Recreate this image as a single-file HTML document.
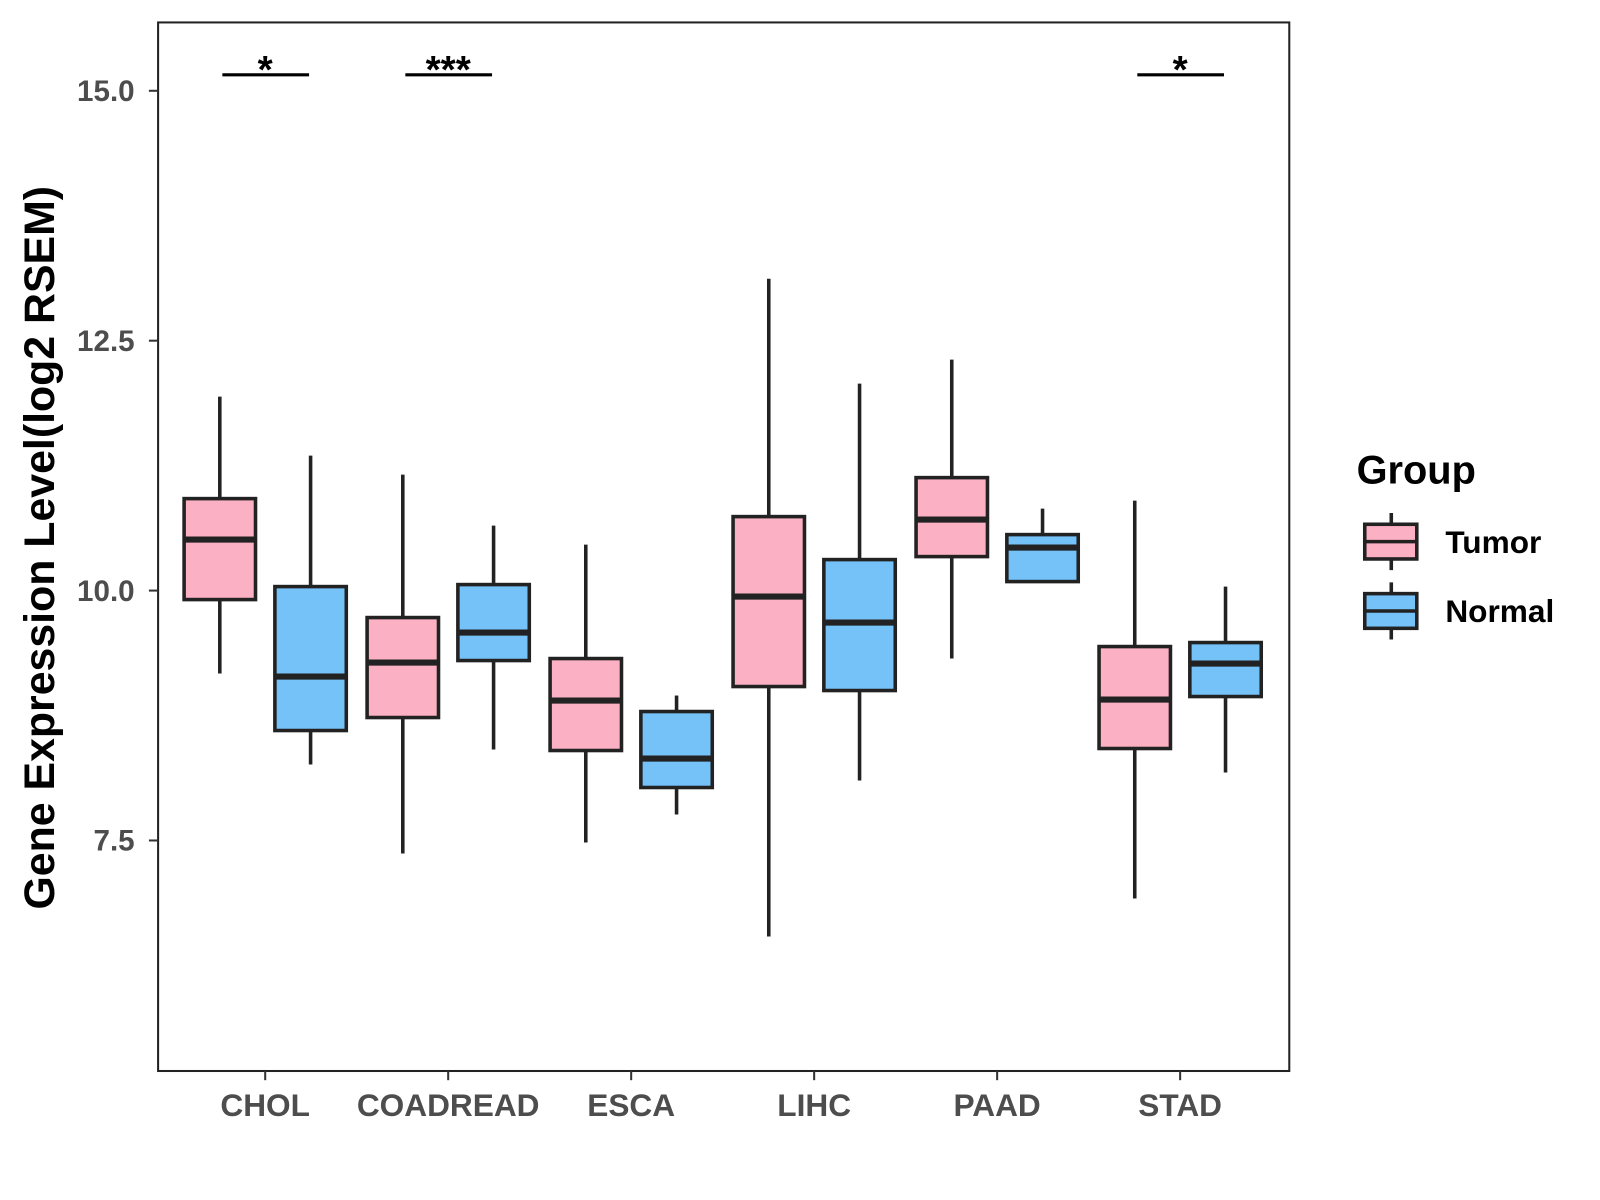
<!DOCTYPE html>
<html><head><meta charset="utf-8"><style>
html,body{margin:0;padding:0;background:#fff;}
svg{display:block;font-family:"Liberation Sans",Arial,sans-serif;}
</style></head><body>
<svg id="chart" width="1600" height="1200" viewBox="0 0 1600 1200">
<g transform="scale(1.020)">
<rect x="155" y="22" width="1109" height="1028" fill="#fff" stroke="#222" stroke-width="2"/>
<g id="yaxis"></g>
<g id="xaxis"></g>
<g id="boxes"></g>
<g id="sig"></g>
<text x="53" y="537" transform="rotate(-90 53 537)" text-anchor="middle" font-size="42" font-weight="bold" fill="#000">Gene Expression Level(log2 RSEM)</text>
<g>
<text x="1330" y="474" font-size="39" font-weight="bold" fill="#000">Group</text>
<g>
<line x1="1364" y1="503" x2="1364" y2="559" stroke="#222" stroke-width="3.5"/>
<rect x="1338" y="514" width="51" height="34" fill="#FBB1C3" stroke="#222" stroke-width="3.5"/>
<line x1="1338" y1="531" x2="1389" y2="531" stroke="#222" stroke-width="3.5"/>
<text x="1417" y="542" font-size="31" font-weight="bold" fill="#000">Tumor</text></g>
<g>
<line x1="1364" y1="571" x2="1364" y2="627" stroke="#222" stroke-width="3.5"/>
<rect x="1338" y="582" width="51" height="34" fill="#75C2F8" stroke="#222" stroke-width="3.5"/>
<line x1="1338" y1="599" x2="1389" y2="599" stroke="#222" stroke-width="3.5"/>
<text x="1417" y="610" font-size="31" font-weight="bold" fill="#000">Normal</text></g>
</g>
</g>
</svg>
<script>
const categories = ["CHOL","COADREAD","ESCA","LIHC","PAAD","STAD"];
const tumorStats = [
 [9.17,9.91,10.51,10.92,11.94],
 [7.37,8.73,9.28,9.73,11.16],
 [7.48,8.40,8.90,9.32,10.46],
 [6.54,9.04,9.94,10.74,13.12],
 [9.32,10.34,10.71,11.13,12.31],
 [6.92,8.42,8.91,9.44,10.90]];
const normalStats = [
 [8.26,8.60,9.14,10.04,11.35],
 [8.41,9.30,9.58,10.06,10.65],
 [7.76,8.03,8.32,8.79,8.95],
 [8.10,9.00,9.68,10.31,12.07],
 [10.09,10.09,10.43,10.56,10.82],
 [8.18,8.94,9.27,9.48,10.04]];
const yTicks = [7.5,10.0,12.5,15.0];
const yTickLabels = ["7.5","10.0","12.5","15.0"];
const sigLabels = ["*","***","","","","*"];
const sigLevel = 15.16;

const NS="http://www.w3.org/2000/svg";
const yScale = v => 579 - (v-10)*98;
const xScale = i => 260 + i*179.4;
function mk(tag, attrs, parent){const e=document.createElementNS(NS,tag);for(const k in attrs)e.setAttribute(k,attrs[k]);parent.appendChild(e);return e;}
const ya=document.getElementById('yaxis'), xa=document.getElementById('xaxis'), bx=document.getElementById('boxes'), sg=document.getElementById('sig');
yTicks.forEach((t,i)=>{
 const y=yScale(t);
 const l=mk('line',{x1:146,x2:155,y1:y,y2:y,stroke:'#333','stroke-width':2},ya);
 
 
 const tx=mk('text',{x:132,y:y+10,'text-anchor':'end','font-size':29,'font-weight':'bold',fill:'#4d4d4d'},ya);
 tx.textContent=yTickLabels[i];
 
 
});
categories.forEach((c,i)=>{
 const x=xScale(i);
 const l=mk('line',{x1:x,x2:x,y1:1050,y2:1059,stroke:'#333','stroke-width':2},xa);
 
 
 const tx=mk('text',{x:x,y:1094,'text-anchor':'middle','font-size':31,'font-weight':'bold',fill:'#4d4d4d'},xa);
 tx.textContent=c;
 
 
});
function drawBox(s,cx,fill,name){
 const g=mk('g',{},bx);
 
 
 const hw=35;
 mk('line',{x1:cx,x2:cx,y1:yScale(s[4]),y2:yScale(s[3]),stroke:'#222','stroke-width':3.5},g);
 mk('line',{x1:cx,x2:cx,y1:yScale(s[1]),y2:yScale(s[0]),stroke:'#222','stroke-width':3.5},g);
 mk('rect',{x:cx-hw,y:yScale(s[3]),width:hw*2,height:yScale(s[1])-yScale(s[3]),fill:fill,stroke:'#222','stroke-width':3.5},g);
 mk('line',{x1:cx-hw,x2:cx+hw,y1:yScale(s[2]),y2:yScale(s[2]),stroke:'#222','stroke-width':6},g);
}
categories.forEach((c,i)=>{
 drawBox(tumorStats[i],xScale(i)-44.5,'#FBB1C3','box-'+c.toLowerCase()+'-tumor');
 drawBox(normalStats[i],xScale(i)+44.5,'#75C2F8','box-'+c.toLowerCase()+'-normal');
 if(sigLabels[i]){
  const y=yScale(sigLevel);
  const l=mk('line',{x1:xScale(i)-42,x2:xScale(i)+43,y1:y,y2:y,stroke:'#000','stroke-width':3},sg);
  
  
  const t=mk('text',{x:xScale(i),y:y+8,'text-anchor':'middle','font-size':38,'font-weight':'bold',fill:'#000'},sg);
  t.textContent=sigLabels[i];
  
  
 }
});
</script>
</body></html>
